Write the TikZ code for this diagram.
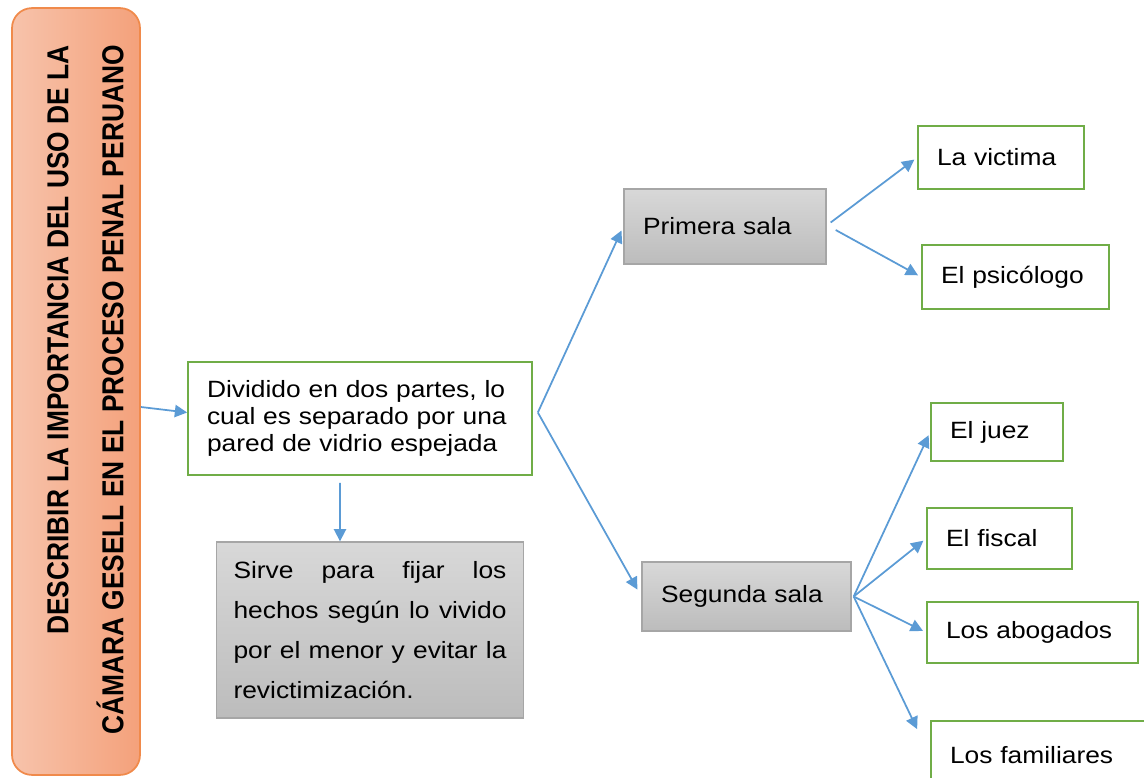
\documentclass[tikz,border=0pt]{standalone}
\usepackage{fontspec}
\setmainfont{Liberation Sans}[FakeStretch=1.12]
\newfontfamily\titfont{Liberation Sans}
\usetikzlibrary{arrows.meta,positioning}
\definecolor{azul}{HTML}{5B9BD5}
\definecolor{verde}{HTML}{70AD47}
\definecolor{naranja}{HTML}{F08A4B}
\definecolor{salmon1}{HTML}{F7C3AB}
\definecolor{salmon2}{HTML}{F4A17B}
\definecolor{grisborde}{HTML}{A6A6A6}
\definecolor{gris1}{HTML}{D8D8D8}
\definecolor{gris2}{HTML}{BCBCBC}

\begin{document}
\begin{tikzpicture}[x=0.02cm, y=-0.02cm, font=\fontsize{13.4}{15.4}\selectfont]
        \tikzstyle{flecha} = [draw=azul, line width=1pt, -{Triangle[length=7pt,width=7pt]}]
        \tikzstyle{hoja} = [draw=verde, line width=1pt, fill=white, inner xsep=0.38cm, align=left]
        \tikzstyle{sala} = [draw=grisborde, line width=0.8pt, top color=gris1, bottom color=gris2, inner xsep=0.38cm, align=left]
        \useasboundingbox (0,0) rectangle (1144,778);

        \node[draw=naranja, line width=1pt, rounded corners=0.4cm, left color=salmon1, right color=salmon2, minimum width=2.56cm, minimum height=15.34cm] (titulo) at (76,391.5) {};
        \node[rotate=90, yscale=1.15, align=right, font=\titfont\bfseries\fontsize{15}{27.2}\selectfont] (tit) at (85.5,390) {DESCRIBIR LA IMPORTANCIA DEL USO DE LA\\CÁMARA GESELL EN EL PROCESO PENAL PERUANO};

        \node[hoja, text width=6.12cm, minimum height=2.26cm] (div) at (360,418.5) {Dividido en dos partes, lo\\cual es separado por una\\pared de vidrio espejada};
        \node[sala, text width=5.46cm, inner xsep=0.34cm, minimum height=3.52cm, align=justify, font=\fontsize{13.4}{22.8}\selectfont] (sirve) at (370,630) {Sirve para fijar los\linebreak hechos según lo vivido\linebreak por el menor y evitar la\linebreak revictimización.};

        \node[sala, text width=3.28cm, minimum height=1.5cm] (prim) at (725,226.5) {Primera sala};
        \node[sala, text width=3.42cm, minimum height=1.38cm] (seg) at (746.5,596.5) {Segunda sala};

        \node[hoja, text width=2.56cm, minimum height=1.26cm] (vic) at (1001,157.5) {La victima};
        \node[hoja, text width=2.98cm, minimum height=1.28cm] (psi) at (1015.5,277) {El psicólogo};
        \node[hoja, text width=1.88cm, minimum height=1.16cm] (juez) at (997,432) {El juez};
        \node[hoja, text width=2.14cm, minimum height=1.22cm] (fisc) at (999.5,538.5) {El fiscal};
        \node[hoja, text width=3.46cm, minimum height=1.22cm] (abog) at (1032.5,632.5) {Los abogados};
        \node[hoja, text width=3.74cm, minimum height=1.38cm] (fam) at (1043.5,755.5) {Los familiares};

        \draw[flecha] ([yshift=-0.31cm]titulo.east) -- ([yshift=0.12cm]div.west);
        \draw[flecha] ([xshift=-0.4cm,yshift=-0.14cm]div.south) -- ([xshift=-0.6cm]sirve.north);
        \draw[flecha, shorten >=2.5pt] ([shift={(0.1cm,0.12cm)}]div.east) -- (prim.west);
        \draw[flecha, shorten >=4.5pt] ([shift={(0.1cm,0.12cm)}]div.east) -- (seg.west);
        \draw[flecha, shorten >=2pt] ([shift={(0.08cm,0.08cm)}]prim.east) -- (vic.west);
        \draw[flecha, shorten >=2pt] ([shift={(0.18cm,-0.07cm)}]prim.east) -- (psi.west);
        \draw[flecha, shorten >=2pt] ([xshift=0.04cm]seg.east) -- (juez.west);
        \draw[flecha, shorten >=2pt] ([xshift=0.04cm]seg.east) -- (fisc.west);
        \draw[flecha, shorten >=2pt] ([xshift=0.04cm]seg.east) -- (abog.west);
        \draw[flecha] ([xshift=0.04cm]seg.east) -- ([shift={(-0.26cm,-0.18cm)}]fam.north west);
\end{tikzpicture}
\end{document}
